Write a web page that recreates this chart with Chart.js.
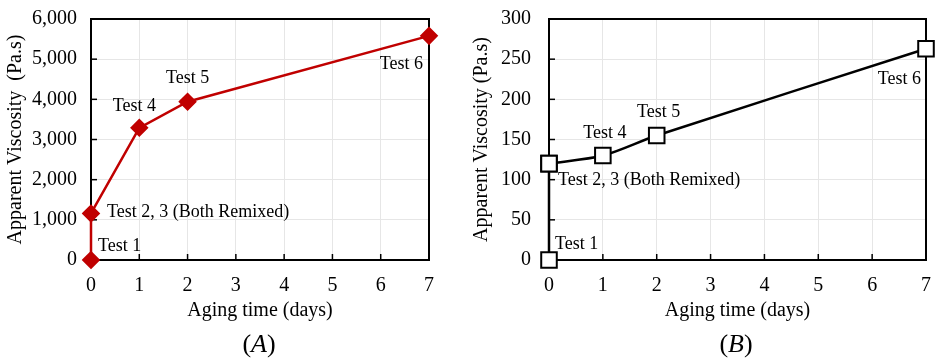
<!DOCTYPE html>
<html>
<head>
<meta charset="utf-8">
<script src="https://cdn.jsdelivr.net/npm/chart.js@4/dist/chart.umd.min.js"></script>
<style>
  body { margin: 0; background: #fff; }
  .panel { position: absolute; top: 0; height: 358px; }
  .caption { position: absolute; top: 329px; font: 26px 'Liberation Serif', serif; color: #000; transform: translateX(-50%); }
</style>
</head>
<body>
<div class="panel" style="left:0;width:470px"><canvas id="chart-a" width="470" height="358"></canvas></div>
<div class="panel" style="left:470px;width:469px"><canvas id="chart-b" width="469" height="358"></canvas></div>
<div class="caption" style="left:259px">(<i>A</i>)</div>
<div class="caption" style="left:736px">(<i>B</i>)</div>
<script>
/***** Data *****/
let TEST_NAMES = ["Test 1", "Test 2, 3 (Both Remixed)", "Test 4", "Test 5", "Test 6"];
let AGING_DAYS = [0, 0, 1, 2, 7];
let VISCOSITY_A = [0, 1160, 3290, 3940, 5580];
let VISCOSITY_B = [0, 120, 130, 155, 263];
let X_TICKS = [0, 1, 2, 3, 4, 5, 6, 7];
let Y_TICKS_A = [0, 1000, 2000, 3000, 4000, 5000, 6000];
let Y_TICKS_B = [0, 50, 100, 150, 200, 250, 300];

//label placement relative to its point (pixels)
let LABEL_POS_A = [
    {align: "left", dx: 7, dy: -14},
    {align: "left", dx: 16, dy: -1},
    {align: "center", dx: -5, dy: -22},
    {align: "center", dx: 0, dy: -23},
    {align: "right", dx: -6, dy: 28}
];
let LABEL_POS_B = [
    {align: "left", dx: 6, dy: -16},
    {align: "left", dx: 9, dy: 17},
    {align: "center", dx: 2, dy: -22},
    {align: "center", dx: 2, dy: -23},
    {align: "right", dx: -5, dy: 31}
];

Chart.defaults.font.family = "'Liberation Serif', 'Times New Roman', serif";
Chart.defaults.color = "#000";

function toPoints(xs, ys) {
    let pts = [];
    for (let i = 0; i < xs.length; i++) {
        pts.push({x: xs[i], y: ys[i]});
    }
    return pts;
}

//Box around plot area + inward tick marks
let framePlugin = {
    id: "frame",
    beforeDatasetsDraw(chart) {
        let ctx = chart.ctx, a = chart.chartArea;
        let xs = chart.scales.x, ys = chart.scales.y;
        ctx.save();
        ctx.strokeStyle = "#000";
        ctx.lineWidth = 1.5;
        xs.ticks.forEach(t => {
            let px = xs.getPixelForValue(t.value);
            ctx.beginPath(); ctx.moveTo(px, a.bottom); ctx.lineTo(px, a.bottom - 6); ctx.stroke();
        });
        ys.ticks.forEach(t => {
            let py = ys.getPixelForValue(t.value);
            ctx.beginPath(); ctx.moveTo(a.left, py); ctx.lineTo(a.left + 6, py); ctx.stroke();
        });
        ctx.lineWidth = 2;
        ctx.strokeRect(a.left, a.top, a.right - a.left, a.bottom - a.top);
        ctx.restore();
    }
};

//Text next to each point
let testLabelPlugin = {
    id: "testLabels",
    afterDatasetsDraw(chart, args, opts) {
        let ctx = chart.ctx;
        let xs = chart.scales.x, ys = chart.scales.y;
        ctx.save();
        ctx.font = "18px 'Liberation Serif', serif";
        ctx.fillStyle = "#000";
        ctx.textBaseline = "middle";
        for (let i = 0; i < opts.names.length; i++) {
            let p = opts.pos[i];
            ctx.textAlign = p.align;
            ctx.fillText(opts.names[i],
                xs.getPixelForValue(opts.xs[i]) + p.dx,
                ys.getPixelForValue(opts.ys[i]) + p.dy);
        }
        ctx.restore();
    }
};

function buildScales(yTicks, yWidth, yLabelPad, yTitlePad) {
    return {
        x: {
            type: "linear",
            min: X_TICKS[0], max: X_TICKS[X_TICKS.length - 1],
            afterBuildTicks: s => { s.ticks = X_TICKS.map(v => ({value: v})); },
            grid: {color: "#e6e6e6", drawTicks: false, lineWidth: 1},
            border: {display: false},
            ticks: {font: {size: 20}, padding: 14, maxRotation: 0},
            title: {display: true, text: "Aging time (days)", font: {size: 20}, padding: {top: 4, bottom: 4}},
            afterFit: s => { s.height = 67; s.paddingLeft = 0; s.paddingRight = 0; }
        },
        y: {
            type: "linear",
            min: yTicks[0], max: yTicks[yTicks.length - 1],
            afterBuildTicks: s => { s.ticks = yTicks.map(v => ({value: v})); },
            grid: {color: "#e6e6e6", drawTicks: false, lineWidth: 1},
            border: {display: false},
            ticks: {font: {size: 20}, padding: yLabelPad},
            title: {display: true, font: {size: 20}, padding: {top: yTitlePad, bottom: 0}},
            afterFit: s => { s.width = yWidth; s.paddingTop = 0; s.paddingBottom = 0; }
        }
    };
}

//Panel A
let scalesA = buildScales(Y_TICKS_A, 91, 14, 4);
scalesA.y.title.text = "Apparent Viscosity  (Pa.s)";
new Chart("chart-a", {
    type: "line",
    data: {
        datasets: [{
            data: toPoints(AGING_DAYS, VISCOSITY_A),
            borderColor: "#c00000",
            backgroundColor: "#c00000",
            borderWidth: 2.5,
            pointStyle: "rectRot",
            pointRadius: 7.5,
            pointHoverRadius: 7.5,
            tension: 0,
            clip: false
        }]
    },
    options: {
        responsive: false,
        animation: false,
        layout: {padding: {top: 19, right: 41, bottom: 31, left: 0}},
        plugins: {
            legend: {display: false},
            tooltip: {enabled: false},
            testLabels: {names: TEST_NAMES, pos: LABEL_POS_A, xs: AGING_DAYS, ys: VISCOSITY_A}
        },
        scales: scalesA
    },
    plugins: [framePlugin, testLabelPlugin]
});

//Panel B: straight rise at day 0, then smoothed curve
let scalesB = buildScales(Y_TICKS_B, 79, 18, 0);
scalesB.y.title.text = "Apparent Viscosity (Pa.s)";
let ptsB = toPoints(AGING_DAYS, VISCOSITY_B);
let squareStyle = {
    borderColor: "#000",
    backgroundColor: "#fff",
    borderWidth: 2.5,
    pointStyle: "rect",
    pointRadius: 11,
    pointHoverRadius: 11,
    pointBorderWidth: 2,
    clip: false
};
new Chart("chart-b", {
    type: "line",
    data: {
        datasets: [
            Object.assign({data: ptsB.slice(0, 2), tension: 0}, squareStyle),
            Object.assign({data: ptsB.slice(1), tension: 0.3}, squareStyle)
        ]
    },
    options: {
        responsive: false,
        animation: false,
        layout: {padding: {top: 19, right: 10, bottom: 31, left: 0}},
        plugins: {
            legend: {display: false},
            tooltip: {enabled: false},
            testLabels: {names: TEST_NAMES, pos: LABEL_POS_B, xs: AGING_DAYS, ys: VISCOSITY_B}
        },
        scales: scalesB
    },
    plugins: [framePlugin, testLabelPlugin]
});
</script>
</body>
</html>
